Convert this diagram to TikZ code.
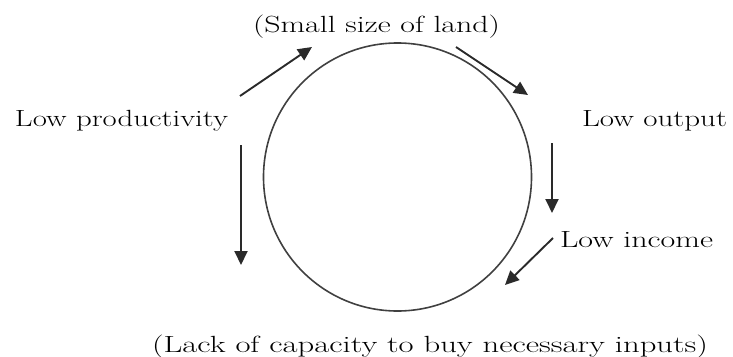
\documentclass[tikz,border=0pt]{standalone}
\usepackage{graphicx}
\usetikzlibrary{arrows.meta}
\definecolor{ink}{HTML}{2A2A2A}
\definecolor{ringc}{HTML}{404040}
\newcommand{\wtxt}[2]{\resizebox{#1}{\height}{\fontsize{23.4}{28}\selectfont #2}}
\tikzset{
  lbl/.style={anchor=base west, inner sep=0pt, outer sep=0pt, text=black},
  flow/.style={draw=ink, line width=1.9pt, -{Triangle[length=14pt,width=13pt]}},
  ring/.style={draw=ringc, line width=1.6pt}
}
\begin{document}
\begin{tikzpicture}[x=1pt,y=-1pt]
\useasboundingbox (0,0) rectangle (733,356);
% circle
\node[ring, circle, minimum size=268pt, inner sep=0pt] (cycle) at (397.5,177) {};
% labels
\node[lbl] (land) at (253,32) {\wtxt{247pt}{(Small size of land)}};
\node[lbl] (prod) at (15,126) {\wtxt{213pt}{Low productivity}};
\node[lbl] (out) at (582,126) {\wtxt{145pt}{Low output}};
\node[lbl] (inc) at (560,247) {\wtxt{153pt}{Low income}};
\node[lbl] (lack) at (152,352) {\wtxt{556pt}{(Lack of capacity to buy necessary inputs)}};
% arrow end points
\coordinate (a1) at (240,96);  \coordinate (a2) at (312,47);
\coordinate (b1) at (456,47);  \coordinate (b2) at (528,95);
\coordinate (c1) at (552,143); \coordinate (c2) at (552,213);
\coordinate (d1) at (553,238); \coordinate (d2) at (505,285);
\coordinate (e1) at (241,145); \coordinate (e2) at (241,265);
\draw[flow] (a1) -- (a2);
\draw[flow] (b1) -- (b2);
\draw[flow] (c1) -- (c2);
\draw[flow] (d1) -- (d2);
\draw[flow] (e1) -- (e2);
\end{tikzpicture}
\end{document}
